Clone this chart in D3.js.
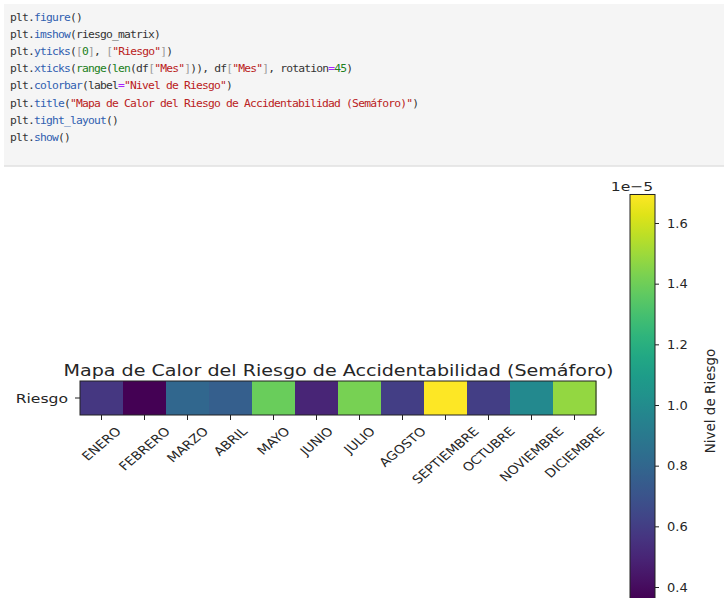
<!DOCTYPE html>
<html><head><meta charset="utf-8">
<script src="https://cdn.jsdelivr.net/npm/d3@7"></script>
<style>html,body{margin:0;padding:0;background:#fff;}</style>
</head><body>
<svg id="c" width="724" height="598"></svg>
<script>
const months = ["ENERO","FEBRERO","MARZO","ABRIL","MAYO","JUNIO","JULIO","AGOSTO","SEPTIEMBRE","OCTUBRE","NOVIEMBRE","DICIEMBRE"];
const riskValues = [0.57, 0.36, 0.80, 0.76, 1.39, 0.50, 1.42, 0.60, 1.69, 0.60, 0.99, 1.48]; // x 1e-5
const yLabels = ["Riesgo"];
const cbTicks = [0.4, 0.6, 0.8, 1.0, 1.2, 1.4, 1.6];
const codeLines = [
  [["plt","#333"],[".","#333"],["figure","#3060b0"],["()","#333"]],
  [["plt","#333"],[".","#333"],["imshow","#3060b0"],["(riesgo_matrix)","#333"]],
  [["plt","#333"],[".","#333"],["yticks","#3060b0"],["(","#333"],["[","#999"],["0","#208020"],["]","#999"],[", ","#333"],["[","#999"],["\"Riesgo\"","#ba2121"],["]","#999"],[")","#333"]],
  [["plt","#333"],[".","#333"],["xticks","#3060b0"],["(","#333"],["range","#208020"],["(","#333"],["len","#208020"],["(df","#333"],["[","#999"],["\"Mes\"","#ba2121"],["]","#999"],[")), df","#333"],["[","#999"],["\"Mes\"","#ba2121"],["]","#999"],[", rotation","#333"],["=","#aa22ff"],["45","#208020"],[")","#333"]],
  [["plt","#333"],[".","#333"],["colorbar","#3060b0"],["(label","#333"],["=","#aa22ff"],["\"Nivel de Riesgo\"","#ba2121"],[")","#333"]],
  [["plt","#333"],[".","#333"],["title","#3060b0"],["(","#333"],["\"Mapa de Calor del Riesgo de Accidentabilidad (Semáforo)\"","#ba2121"],[")","#333"]],
  [["plt","#333"],[".","#333"],["tight_layout","#3060b0"],["()","#333"]],
  [["plt","#333"],[".","#333"],["show","#3060b0"],["()","#333"]]
];

const svg = d3.select("#c");
const font = "DejaVu Sans, sans-serif";
const ink = "#262626";

// code cell
svg.append("rect").attr("x",4).attr("y",4).attr("width",720).attr("height",162).attr("fill","#f5f5f5");
svg.append("line").attr("x1",4).attr("x2",724).attr("y1",166).attr("y2",166).attr("stroke","#e0e0e0").attr("stroke-width",1.5);
codeLines.forEach((ln,i)=>{
  const t = svg.append("text").attr("x",10).attr("y",21+i*17.1)
    .attr("font-family","DejaVu Sans Mono, monospace").attr("font-size",11.3).attr("letter-spacing","-0.8px").attr("xml:space","preserve");
  ln.forEach(s=>t.append("tspan").attr("fill",s[1]).text(s[0]));
});

// heatmap
const x = d3.scaleBand().domain(months).range([80,596]);
const y = d3.scaleBand().domain(yLabels).range([381,415]);
const vmin = 0.36, vmax = 1.694;
const color = d3.scaleSequential(d3.interpolateViridis).domain([vmin, vmax]);

svg.append("g").selectAll("rect").data(riskValues).join("rect")
  .attr("x",(d,i)=>x(months[i])).attr("y",y("Riesgo"))
  .attr("width",x.bandwidth()+0.5).attr("height",y.bandwidth())
  .attr("fill",d=>color(d));
svg.append("rect").attr("x",80).attr("y",381).attr("width",516).attr("height",34)
  .attr("fill","none").attr("stroke","#222").attr("stroke-width",1);

// title
svg.append("text").attr("transform","translate(338.5,376) scale(1.21,1)").attr("text-anchor","middle")
  .attr("font-family",font).attr("font-size",15.8).attr("fill",ink)
  .text("Mapa de Calor del Riesgo de Accidentabilidad (Semáforo)");

// y tick
svg.append("line").attr("x1",75).attr("x2",80).attr("y1",398).attr("y2",398).attr("stroke","#222");
svg.append("text").attr("transform","translate(68,403) scale(1.2,1)").attr("text-anchor","end")
  .attr("font-family",font).attr("font-size",13).attr("fill",ink).text("Riesgo");

// x ticks
months.forEach(m=>{
  const cx = x(m)+x.bandwidth()/2;
  svg.append("line").attr("x1",cx).attr("x2",cx).attr("y1",415).attr("y2",420).attr("stroke","#222");
  const t = svg.append("text").attr("font-family",font).attr("font-size",11.8).attr("fill",ink)
    .attr("text-anchor","middle").attr("dominant-baseline","central").text(m);
  const w = t.node().getComputedTextLength();
  const h = 11.8;
  const bb = (w+h)*Math.SQRT1_2;
  const cy = 425 + bb/2;
  t.attr("transform",`translate(${cx},${cy}) scale(1.18,1) rotate(-45)`);
});

// colorbar
const cbX = 630, cbW = 25;
const cy = d3.scaleLinear().domain([0.4, 1.6]).range([587, 223]);
const cbBottom = cy(vmin);
const grad = svg.append("defs").append("linearGradient").attr("id","g").attr("x1",0).attr("y1",1).attr("x2",0).attr("y2",0);
d3.range(0,1.0001,0.05).forEach(t=>grad.append("stop").attr("offset",t).attr("stop-color",d3.interpolateViridis(t)));
svg.append("rect").attr("x",cbX).attr("y",cy(vmax)).attr("width",cbW).attr("height",cbBottom-cy(vmax))
  .attr("fill","url(#g)").attr("stroke","#222").attr("stroke-width",1);
const ax = svg.append("g").attr("transform",`translate(${cbX+cbW},0)`)
  .call(d3.axisRight(cy).tickValues(cbTicks).tickFormat(d3.format(".1f")).tickSize(4).tickPadding(8));
ax.select(".domain").remove();
ax.selectAll("text").attr("font-family",font).attr("font-size",13).attr("fill",ink);
ax.selectAll("line").attr("stroke","#222");
svg.append("text").attr("transform","translate(632,191) scale(1.2,1)").attr("text-anchor","middle")
  .attr("font-family",font).attr("font-size",13).attr("fill",ink).text("1e−5");
svg.append("text").attr("transform",`translate(715,401) rotate(-90)`).attr("text-anchor","middle")
  .attr("font-family",font).attr("font-size",13.5).attr("fill",ink).text("Nivel de Riesgo");
</script>
</body></html>
